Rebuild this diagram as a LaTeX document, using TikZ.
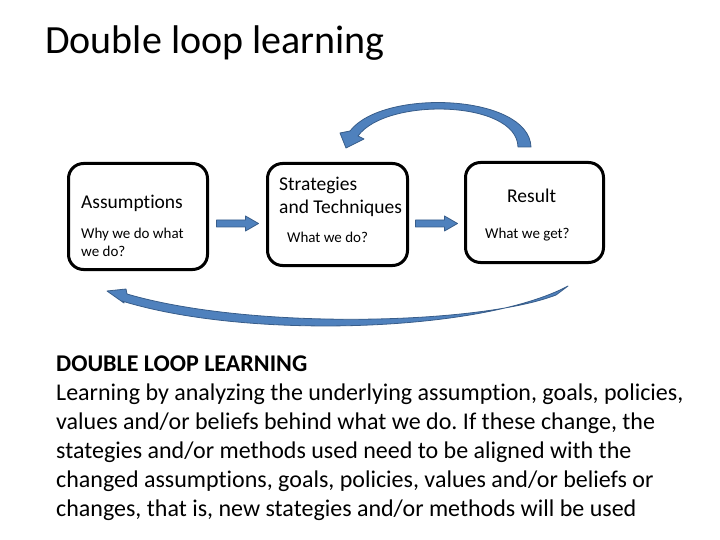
\documentclass[tikz,border=0pt]{standalone}
\usepackage{fontspec}
\setmainfont[Ligatures={NoCommon,NoContextual,NoRare},RawFeature={-liga;-clig;-calt;-dlig}]{Carlito}
\usetikzlibrary{calc}
\frenchspacing
\definecolor{arrfill}{HTML}{4F81BD}
\definecolor{arrline}{HTML}{385D8A}
\tikzset{
  stagebox/.style={draw=black,line width=3pt,rounded corners=15pt,fill=white},
  headtxt/.style={inner sep=0pt,anchor=base west,font=\fontsize{19.5}{23}\selectfont},
  subtxt/.style={inner sep=0pt,anchor=base west,font=\fontsize{15}{17}\selectfont},
  curvearrow/.style={draw=arrline,fill=arrfill,line width=0.8pt,line join=round}
}
\begin{document}
\begin{tikzpicture}[x=1pt,y=-1pt]
\useasboundingbox (0,0) rectangle (720,540);
% title
\node[inner sep=0pt,anchor=base west,font=\fontsize{40}{48}\selectfont] (title) at (45,54) {Double loop learning};
% boxes
\node[stagebox,minimum width=139pt,minimum height=106pt] (b1) at (138,216.5) {};
\node[stagebox,minimum width=140pt,minimum height=102pt] (b2) at (337.5,214.5) {};
\node[stagebox,minimum width=138pt,minimum height=100pt] (b3) at (534.5,212.5) {};
% box texts
\node[headtxt] (t1) at (81,208) {Assumptions};
\node[subtxt] (s1a) at (81,239) {Why we do what};
\node[subtxt] (s1b) at (81,256) {we do?};
\node[headtxt] (t2a) at (279,191) {Strategies};
\node[headtxt] (t2b) at (279,214) {and Techniques};
\node[subtxt] (s2) at (287,242) {What we do?};
\node[headtxt] (t3) at (507,203) {Result};
\node[subtxt] (s3) at (485,238) {What we get?};
% straight block arrows
\coordinate (a1) at ($(b1.east)!0.5!(b2.west)+(0,8)$);
\coordinate (a2) at ($(b2.east)!0.5!(b3.west)+(0,10)$);
\path[curvearrow,shift={(a1)}] (-21,-3.5) -- (8,-3.5) -- (8,-7.5) -- (21,0) -- (8,7.5) -- (8,3.5) -- (-21,3.5) -- cycle;
\path[curvearrow,shift={(a2)}] (-21,-3.5) -- (8,-3.5) -- (8,-7.5) -- (21,0) -- (8,7.5) -- (8,3.5) -- (-21,3.5) -- cycle;
% top curved arrow (Result -> Strategies)
\path[curvearrow] (531,147) .. controls (529,94) and (383,88) .. (350,131)
  -- (340,133) -- (346,148) -- (364,139) -- (358,136)
  .. controls (386,97) and (517,100) .. (518,147) -- cycle;
% bottom curved arrow (Result -> Assumptions)
\path[curvearrow] (568,286) .. controls (482,332) and (248,340) .. (122,301)
  -- (124,303) -- (107,291) -- (126,289) -- (127,294)
  .. controls (250,330) and (478,325) .. (556,295) -- cycle;
% body text
\node[inner sep=0pt,anchor=north west,align=left,font=\fontsize{24}{29}\selectfont] (body) at (56,355.5)
 {\textbf{DOUBLE LOOP LEARNING}\\
 Learning by analyzing the underlying assumption, goals, policies,\\
 values and/or beliefs behind what we do. If these change, the\\
 stategies and/or methods used need to be aligned with the\\
 changed assumptions, goals, policies, values and/or beliefs or\\
 changes, that is, new stategies and/or methods will be used};
\end{tikzpicture}
\end{document}
